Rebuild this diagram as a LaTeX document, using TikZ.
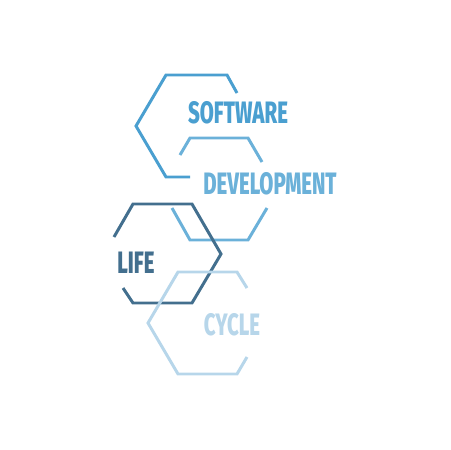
\documentclass[tikz,border=0pt]{standalone}
\usepackage{fontspec}
\usepackage{tikz}
\usepackage{xcolor}
\newfontfamily\hexfont{Fira Sans ExtraBold}[FakeStretch=0.66]
\definecolor{swblue}{HTML}{4A9FD0}
\definecolor{devblue}{HTML}{6BB1D9}
\definecolor{lifeblue}{HTML}{436F8E}
\definecolor{cycleblue}{HTML}{B7D6EA}

\begin{document}
\begin{tikzpicture}[
    x=0.02cm, y=-0.02cm,
    hexline/.style={line width=1.7pt, line join=miter},
    word/.style={inner sep=0pt, font=\hexfont\fontsize{17.6}{18}\selectfont}
]
\useasboundingbox (0,0) rectangle (450,450);

% open hexagons
\draw[hexline, swblue] (237,93) -- (227,75) -- (166,75) -- (136,126) -- (166,177) -- (190,177);
\draw[hexline, devblue] (180,155) -- (190,138) -- (248,138) -- (262,162);
\draw[hexline, devblue] (172,208) -- (190,240) -- (248,240) -- (267,208);
\draw[hexline, lifeblue] (114,237) -- (133,204) -- (192,204) -- (221,254) -- (192,303) -- (133,303) -- (123,288);
\draw[hexline, cycleblue] (247,288) -- (237,272) -- (178,272) -- (148,323) -- (178,374) -- (237,374) -- (247,357);

% words
\node[word, text=swblue] (software) at (238,112.5) {SOFTWARE};
\node[word, text=devblue] (development) at (270,184) {DEVELOPMENT};
\node[word, text=lifeblue] (life) at (136,263) {LIFE};
\node[word, text=cycleblue] (cycle) at (232,325) {CYCLE};
\end{tikzpicture}
\end{document}
